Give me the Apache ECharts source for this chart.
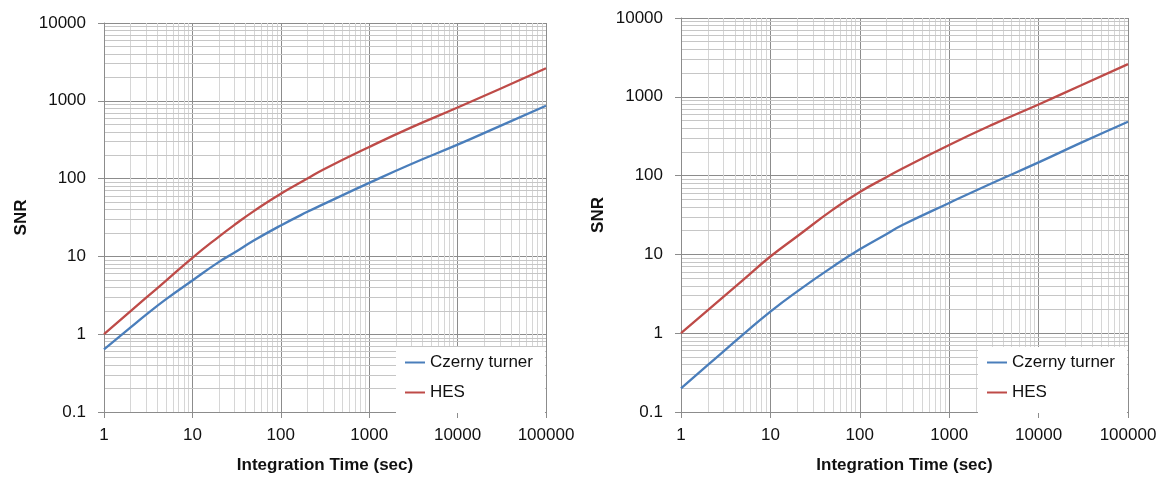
<!DOCTYPE html>
<html>
<head>
<meta charset="utf-8">
<script src="https://cdn.jsdelivr.net/npm/echarts@6/dist/echarts.min.js"></script>
<style>
  html, body { margin: 0; padding: 0; background: #ffffff; }
  #chart { width: 1166px; height: 479px; }
</style>
</head>
<body>
<div id="chart"></div>
<script>
// Left panel: integration time (s) and SNR for each spectrograph
const timesLeft  = [1, 2, 3, 5, 10, 20, 30, 50, 100, 200, 300, 1000, 3000, 10000, 30000, 100000];
const czernyLeft = [0.64, 1.22, 1.78, 2.8, 4.9, 8.5, 11.2, 16.1, 25, 37.4, 46.6, 88, 154, 273, 473, 863];
const hesLeft    = [1.0, 1.98, 2.95, 4.85, 9.6, 18, 25.5, 38.5, 64, 100, 130, 255, 455, 820, 1420, 2625];

// Right panel
const timesRight  = [1, 2, 5, 10, 20, 50, 100, 200, 300, 1000, 3000, 10000, 30000, 100000];
const czernyRight = [0.2, 0.395, 0.97, 1.88, 3.4, 7.0, 11.6, 18.2, 23.6, 45, 80, 147, 262, 483];
const hesRight    = [1.0, 1.96, 4.8, 9.4, 17, 37, 62, 96, 123, 245, 440, 800, 1400, 2600];

// Axis text
const xTickLabels = ['1', '10', '100', '1000', '10000', '100000'];
const yTickLabels = ['0.1', '1', '10', '100', '1000', '10000'];
const xTitle = 'Integration Time (sec)';
const yTitle = 'SNR';
const seriesNames = ['Czerny turner', 'HES'];

const COLORS = ['#4a7ebb', '#be4b48'];
const FONT = 'Liberation Sans, Arial, sans-serif';
const MAJOR = '#8c8c8c';
const MINOR_X = '#d6d6d6';
const MINOR_Y = '#c6c6c6';

// values 2..9 within each decade, used for the minor grid
function minorValues(fromExp, toExp) {
  const out = [];
  for (let e = fromExp; e < toExp; e++) {
    const d = Math.pow(10, e);
    for (let k = 2; k <= 9; k++) out.push(+(k * d).toPrecision(3));
  }
  return out;
}

function pairs(xs, ys) { return xs.map((x, i) => [x, ys[i]]); }

function xAxisFor(gridIndex) {
  return {
    type: 'log', logBase: 10, gridIndex, min: 1, max: 100000,
    name: xTitle, nameLocation: 'middle', nameGap: 45,
    nameTextStyle: { fontFamily: FONT, fontSize: 17, fontWeight: 'bold', color: '#111' },
    axisLine: { show: true, lineStyle: { color: MAJOR, width: 1 } },
    axisTick: { show: true, length: 6, lineStyle: { color: MAJOR } },
    axisLabel: { margin: 15, fontFamily: FONT, fontSize: 17, color: '#111',
                 formatter: (v, i) => xTickLabels[i] },
    splitLine: { show: true, lineStyle: { color: MAJOR, width: 1 } },
    minorTick: { show: false }, minorSplitLine: { show: false }
  };
}

function yAxisFor(gridIndex) {
  return {
    type: 'log', logBase: 10, gridIndex, min: 0.1, max: 10000,
    name: yTitle, nameLocation: 'middle', nameGap: 74, nameRotate: 90,
    nameTextStyle: { fontFamily: FONT, fontSize: 17, fontWeight: 'bold', color: '#111' },
    axisLine: { show: true, lineStyle: { color: MAJOR, width: 1 } },
    axisTick: { show: true, length: 6, lineStyle: { color: MAJOR } },
    axisLabel: { margin: 18, fontFamily: FONT, fontSize: 17, color: '#111',
                 formatter: (v, i) => yTickLabels[i] },
    splitLine: { show: true, lineStyle: { color: MAJOR, width: 1 } },
    minorTick: { show: false }, minorSplitLine: { show: false }
  };
}

// invisible carrier series holding the minor grid lines of one panel
function minorGrid(idx) {
  const data = minorValues(0, 5).map(v => ({ xAxis: v, lineStyle: { color: MINOR_X } }))
    .concat(minorValues(-1, 4).map(v => ({ yAxis: v, lineStyle: { color: MINOR_Y } })));
  return {
    type: 'line', xAxisIndex: idx, yAxisIndex: idx, data: [], z: 0, silent: true,
    markLine: {
      z: 0, silent: true, symbol: ['none', 'none'], animation: false,
      label: { show: false },
      lineStyle: { width: 1, type: 'solid' },
      emphasis: { disabled: true },
      data
    }
  };
}

function curve(idx, name, color, xs, ys) {
  return {
    type: 'line', name, xAxisIndex: idx, yAxisIndex: idx, z: 10,
    data: pairs(xs, ys), smooth: 0.5, symbol: 'none',
    lineStyle: { color, width: 2.3 }, itemStyle: { color },
    animation: false
  };
}

function legendFor(left) {
  return {
    show: true, orient: 'vertical', left, top: 347, z: 20,
    data: seriesNames.map(name => ({ name, icon: 'rect' })),
    itemWidth: 20, itemHeight: 2, itemGap: 13,
    padding: [7, 12, 12, 9],
    backgroundColor: '#ffffff',
    textStyle: { fontFamily: FONT, fontSize: 17, color: '#111' },
    selectedMode: false
  };
}

const chart = echarts.init(document.getElementById('chart'), null, { renderer: 'canvas' });
chart.setOption({
  backgroundColor: '#ffffff',
  animation: false,
  grid: [
    { left: 104, top: 23, width: 442, height: 390 },
    { left: 681, top: 18, width: 447, height: 395 }
  ],
  xAxis: [xAxisFor(0), xAxisFor(1)],
  yAxis: [yAxisFor(0), yAxisFor(1)],
  legend: [legendFor(396), legendFor(978)],
  series: [
    minorGrid(0),
    minorGrid(1),
    curve(0, seriesNames[0], COLORS[0], timesLeft, czernyLeft),
    curve(0, seriesNames[1], COLORS[1], timesLeft, hesLeft),
    curve(1, seriesNames[0], COLORS[0], timesRight, czernyRight),
    curve(1, seriesNames[1], COLORS[1], timesRight, hesRight)
  ]
});
</script>
</body>
</html>
